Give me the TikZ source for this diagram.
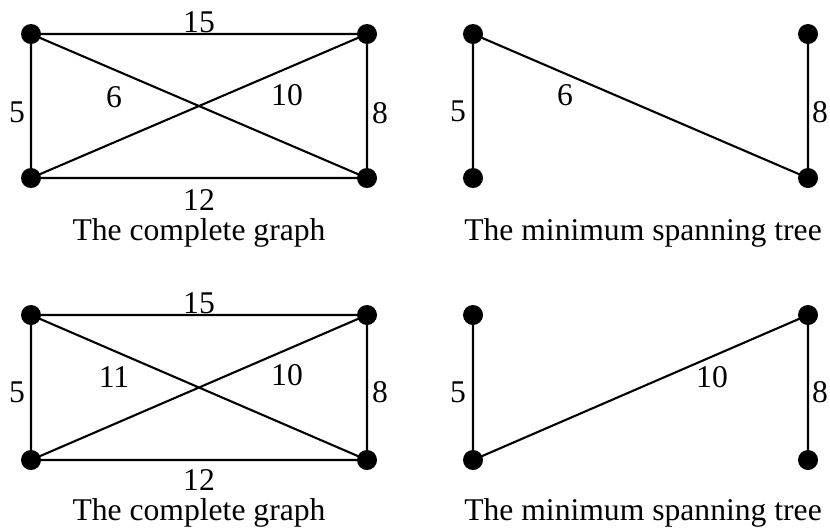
\documentclass[tikz,border=0pt]{standalone}
\usepackage{fontspec}
\setmainfont{Liberation Serif}
\begin{document}
\begin{tikzpicture}[x=0.02cm,y=-0.02cm, line join=round, line cap=round,
  font=\fontsize{18}{22}\selectfont, edge/.style={line width=1.2pt}]
\useasboundingbox (0,0) rectangle (830,529);
% vertices of the four graphs
\path
(31,34) coordinate (A1) (367,34) coordinate (B1) (31,178) coordinate (C1) (367,178) coordinate (D1)
(473,34) coordinate (E1) (808,34) coordinate (F1) (473,178) coordinate (G1) (808,178) coordinate (H1)
(31,315) coordinate (A2) (367,315) coordinate (B2) (31,460) coordinate (C2) (367,460) coordinate (D2)
(473,315) coordinate (E2) (808,315) coordinate (F2) (473,460) coordinate (G2) (808,460) coordinate (H2)
;
\draw[edge] (A1)--(B1)--(D1)--(C1)--cycle (A1)--(D1) (B1)--(C1);
\draw[edge] (E1)--(G1) (E1)--(H1) (F1)--(H1);
\draw[edge] (A2)--(B2)--(D2)--(C2)--cycle (A2)--(D2) (B2)--(C2);
\draw[edge] (E2)--(G2) (G2)--(F2) (F2)--(H2);
\foreach \p in {A1,B1,C1,D1,E1,F1,G1,H1,A2,B2,C2,D2,E2,F2,G2,H2}
\fill(\p)circle(0.2cm);
% weights
\foreach \t/\x/\y [count=\i] in {15/199/22,5/17/112,6/114/97,10/287/95,8/380/113,12/199/200,
  5/458/111,6/565/95,8/820/112,
  15/199/303,5/17/392,11/114/377,10/287/375,8/380/392,12/199/480,
  5/458/392,10/712/377,8/820/392}
\node (w\i) at (\x,\y) {\t};
% captions
\node (cap1) at (199,233) {The complete graph};
\node (cap2) at (643,233) {The minimum spanning tree};
\node (cap3) at (199,513) {The complete graph};
\node (cap4) at (643,513) {The minimum spanning tree};
\end{tikzpicture}
\end{document}
